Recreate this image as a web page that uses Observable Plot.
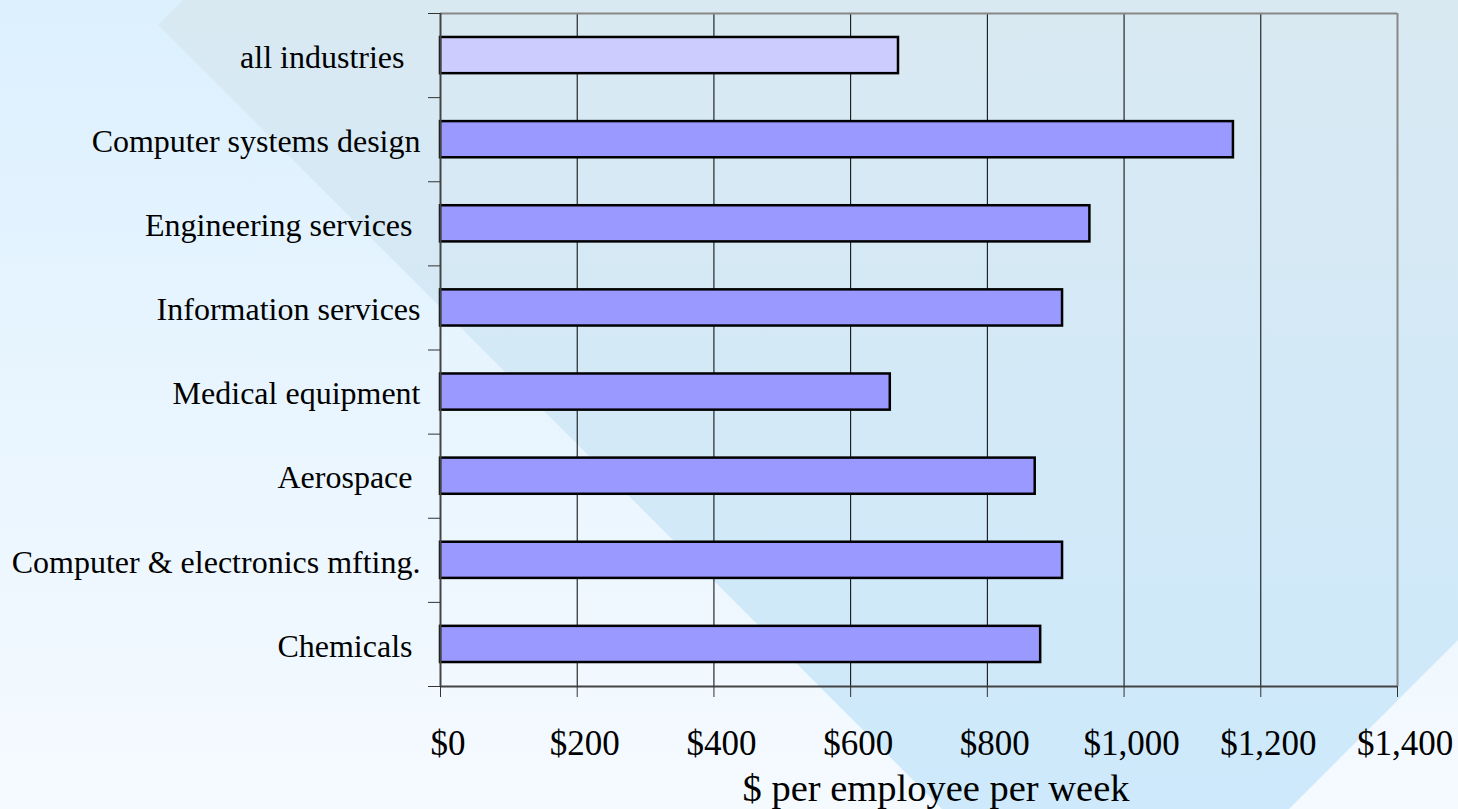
<!DOCTYPE html>
<html>
<head>
<meta charset="utf-8">
<script src="https://cdn.jsdelivr.net/npm/d3@7"></script>
<script src="https://cdn.jsdelivr.net/npm/@observablehq/plot@0.6"></script>
<style>
  html, body { margin: 0; padding: 0; width: 1458px; height: 809px; overflow: hidden; }
  body {
    position: relative;
    background: linear-gradient(to bottom, #dcf0fe 0%, #f5faff 100%);
    font-family: "Liberation Serif", "DejaVu Serif", serif;
  }
  #shape {
    position: absolute; left: 0; top: 0; width: 1458px; height: 809px;
    background: linear-gradient(to bottom, #d9e9f2 0%, #cde9fb 100%);
    clip-path: polygon(183px 0px, 1458px 0px, 1458px 640px, 1289px 809px, 942px 809px, 158px 25px);
  }
  #chart { position: absolute; left: 0; top: 0; }
  #chart svg { background: transparent !important; overflow: visible; }
  #chart svg text { white-space: pre; }
</style>
</head>
<body>
<div id="shape"></div>
<div id="chart"></div>
<script>
// ---- data ----
const categories = [
  "all industries  ",
  "Computer systems design",
  "Engineering services ",
  "Information services",
  "Medical equipment",
  "Aerospace ",
  "Computer & electronics mfting.",
  "Chemicals "
];
const values = [670, 1160, 950, 910, 658, 870, 910, 878];
const xTicks = [0, 200, 400, 600, 800, 1000, 1200, 1400];
const xLabel = "$ per employee per week";

const rows = categories.map((c, i) => ({category: c, value: values[i], index: i}));
const pad = 0.285;
const fmt = d3.format(",");

const chart = Plot.plot({
  width: 1458,
  height: 809,
  marginLeft: 440,
  marginRight: 61,
  marginTop: 13,
  marginBottom: 123,
  style: {fontFamily: "'Liberation Serif', serif", color: "#000", background: "transparent"},
  x: {domain: [0, 1400], label: null},
  y: {domain: [0, categories.length], reverse: true, label: null},
  marks: [
    Plot.gridX(xTicks.slice(1, -1), {stroke: "#000", strokeOpacity: 1, strokeWidth: 1}),
    Plot.ruleY([0], {stroke: "#888", strokeWidth: 2}),
    Plot.ruleX([1400], {stroke: "#888", strokeWidth: 2}),
    Plot.rect(rows, {
      x1: 0,
      x2: "value",
      y1: d => d.index + pad,
      y2: d => d.index + 1 - pad,
      fill: d => d.index === 0 ? "#ccccff" : "#9999ff",
      stroke: "#000",
      strokeWidth: 2.5
    }),
    Plot.ruleX([0], {stroke: "#444", strokeWidth: 2}),
    Plot.ruleY([categories.length], {stroke: "#444", strokeWidth: 2}),
    Plot.axisX({
      ticks: xTicks,
      tickFormat: () => "",
      tickSize: 11,
      stroke: "#333",
      label: null
    }),
    Plot.axisX({
      ticks: xTicks,
      tickFormat: d => "$" + fmt(d),
      tickSize: 0,
      tickPadding: 44,
      fontSize: 35,
      dx: 7.5,
      label: null
    }),
    Plot.axisY({
      ticks: d3.range(0, categories.length + 1),
      tickSize: 12,
      tickFormat: () => "",
      stroke: "#333",
      label: null
    }),
    Plot.axisY({
      ticks: categories.map((c, i) => i + 0.5),
      tickFormat: t => categories[Math.floor(t)],
      tickSize: 0,
      tickPadding: 20,
      fontSize: 32,
      dy: 2,
      label: null
    }),
    Plot.text([xLabel], {
      frameAnchor: "bottom",
      dy: 102,
      dx: 17,
      fontSize: 38.5,
      lineAnchor: "middle",
      fill: "#000"
    })
  ]
});
document.getElementById("chart").appendChild(chart);
</script>
</body>
</html>
